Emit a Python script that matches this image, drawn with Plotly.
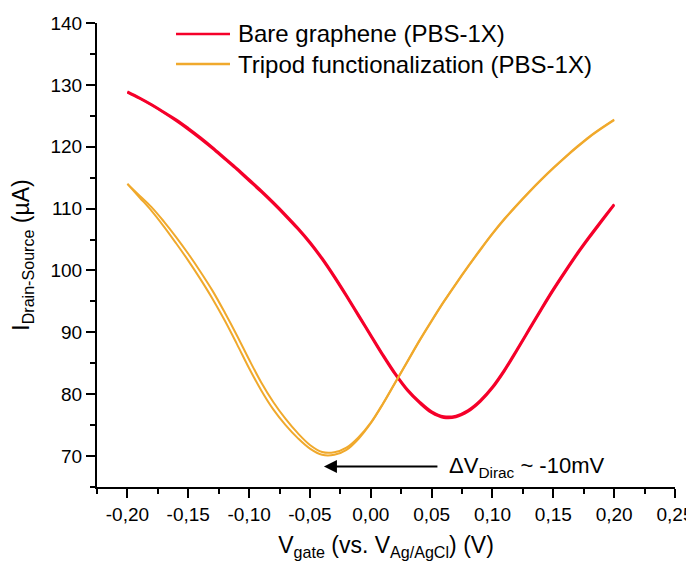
import plotly.graph_objects as go

v_gate = [-0.20, -0.19, -0.18, -0.17, -0.16, -0.15, -0.14, -0.13, -0.12, -0.11,
          -0.10, -0.09, -0.08, -0.07, -0.06, -0.05, -0.04, -0.03, -0.02, -0.01,
          0.00, 0.01, 0.02, 0.03, 0.04, 0.05, 0.06, 0.07, 0.08, 0.09,
          0.10, 0.11, 0.12, 0.13, 0.14, 0.15, 0.16, 0.17, 0.18, 0.19, 0.20]

bare_fwd = [128.8, 127.8, 126.7, 125.5, 124.2, 122.8, 121.3, 119.7, 118.0, 116.3,
            114.5, 112.7, 110.8, 108.8, 106.7, 104.4, 101.8, 98.9, 95.8, 92.6,
            89.4, 86.2, 83.2, 80.6, 78.6, 77.0, 76.2, 76.3, 77.2, 78.8,
            81.0, 83.8, 87.0, 90.3, 93.6, 96.8, 99.8, 102.7, 105.4, 108.0, 110.6]
bare_rev = [128.9, 127.9, 126.8, 125.6, 124.4, 123.0, 121.5, 119.9, 118.2, 116.5,
            114.7, 112.9, 111.0, 109.0, 106.9, 104.6, 102.0, 99.1, 96.0, 92.8,
            89.6, 86.4, 83.4, 80.8, 78.8, 77.2, 76.4, 76.5, 77.4, 79.0,
            81.2, 84.0, 87.2, 90.5, 93.8, 97.0, 100.0, 102.9, 105.6, 108.2, 110.7]

tripod_fwd = [114.0, 111.8, 109.6, 107.1, 104.4, 101.6, 98.6, 95.4, 91.9, 88.1,
              84.2, 80.6, 77.5, 75.0, 72.9, 71.2, 70.2, 70.2, 71.0, 72.8,
              75.3, 78.4, 81.8, 85.2, 88.6, 91.8, 94.9, 97.8, 100.6, 103.3,
              105.9, 108.3, 110.5, 112.6, 114.6, 116.5, 118.3, 120.0, 121.6, 123.0, 124.3]
tripod_rev = [114.0, 112.1, 110.2, 107.9, 105.4, 102.7, 99.8, 96.7, 93.2, 89.5,
              85.6, 81.9, 78.7, 76.0, 73.7, 71.8, 70.65, 70.6, 71.35, 73.05,
              75.4, 78.5, 81.9, 85.3, 88.7, 91.9, 95.0, 97.9, 100.7, 103.4,
              106.0, 108.4, 110.6, 112.7, 114.7, 116.6, 118.4, 120.1, 121.7, 123.1, 124.4]

series_names = ["Bare graphene (PBS-1X)", "Tripod functionalization (PBS-1X)"]
x_ticks = [-0.20, -0.15, -0.10, -0.05, 0.00, 0.05, 0.10, 0.15, 0.20, 0.25]
x_tick_labels = ["-0,20", "-0,15", "-0,10", "-0,05", "0,00", "0,05", "0,10", "0,15", "0,20", "0,25"]
y_ticks = [70, 80, 90, 100, 110, 120, 130, 140]
y_tick_labels = ["70", "80", "90", "100", "110", "120", "130", "140"]

RED = "#F5002A"
YEL = "#F0A92C"
FONT = "Liberation Sans, Arial, sans-serif"
colors = [RED, YEL]

fig = go.Figure()
fig.add_trace(go.Scatter(x=v_gate, y=bare_fwd, mode="lines", name=series_names[0],
                         line=dict(color=RED, width=2.5, shape="spline", smoothing=1.0), showlegend=False))
fig.add_trace(go.Scatter(x=v_gate, y=bare_rev, mode="lines", name=series_names[0],
                         line=dict(color=RED, width=2.5, shape="spline", smoothing=1.0), showlegend=False))
fig.add_trace(go.Scatter(x=v_gate, y=tripod_fwd, mode="lines", name=series_names[1],
                         line=dict(color=YEL, width=2.0, shape="spline", smoothing=1.0), showlegend=False))
fig.add_trace(go.Scatter(x=v_gate, y=tripod_rev, mode="lines", name=series_names[1],
                         line=dict(color=YEL, width=2.0, shape="spline", smoothing=1.0), showlegend=False))

# legend drawn as paper-positioned sample lines + labels
legend_rows_y = [0.9763, 0.9116]
for name, col, ly in zip(series_names, colors, legend_rows_y):
    fig.add_shape(type="line", xref="paper", yref="paper", x0=0.1367, x1=0.2301, y0=ly, y1=ly,
                  line=dict(color=col, width=2.5))
    fig.add_annotation(x=0.2405, y=ly, xref="paper", yref="paper", xanchor="left", yanchor="middle",
                       text=name, showarrow=False, font=dict(family=FONT, size=24, color="black"))

fig.add_annotation(x=-0.0385, y=68.3, ax=0.056, ay=68.3, xref="x", yref="y",
                   axref="x", ayref="y", text="", showarrow=True,
                   arrowhead=2, arrowsize=1.3, arrowwidth=2, arrowcolor="black")
fig.add_annotation(x=0.0628, y=68.3, xref="x", yref="y", xanchor="left",
                   text="ΔV<sub>Dirac</sub> ~ -10mV", showarrow=False,
                   font=dict(family=FONT, size=22, color="black"))

axis_common = dict(showline=True, linecolor="black", linewidth=2, ticks="outside",
                   ticklen=9, tickwidth=2, tickcolor="black", showgrid=False,
                   zeroline=False, mirror=False, automargin=False,
                   tickfont=dict(family=FONT, size=19, color="black"))

fig.update_xaxes(range=[-0.225, 0.25], tickmode="array", tickvals=x_ticks, ticktext=x_tick_labels,
                 minor=dict(ticks="outside", ticklen=5, tickwidth=2, tickcolor="black", dtick=0.025, tick0=-0.225),
                 title=dict(text="V<sub>gate</sub> (vs. V<sub>Ag/AgCl</sub>) (V)",
                            font=dict(family=FONT, size=23, color="black"), standoff=17),
                 **axis_common)
fig.update_yaxes(range=[65, 140], tickmode="array", tickvals=y_ticks, ticktext=y_tick_labels,
                 minor=dict(ticks="outside", ticklen=5, tickwidth=2, tickcolor="black", dtick=5, tick0=65),
                 title=dict(text="I<sub>Drain-Source</sub> (µA)",
                            font=dict(family=FONT, size=23, color="black"), standoff=15),
                 **axis_common)

# page body has an 8px margin, so the figure is 686x553 and offset by 8px
fig.update_layout(width=686, height=553,
                  margin=dict(l=89, r=19, t=15, b=74),
                  paper_bgcolor="white", plot_bgcolor="white",
                  font=dict(family=FONT, color="black"),
                  showlegend=False)

fig.write_html("out.html")
